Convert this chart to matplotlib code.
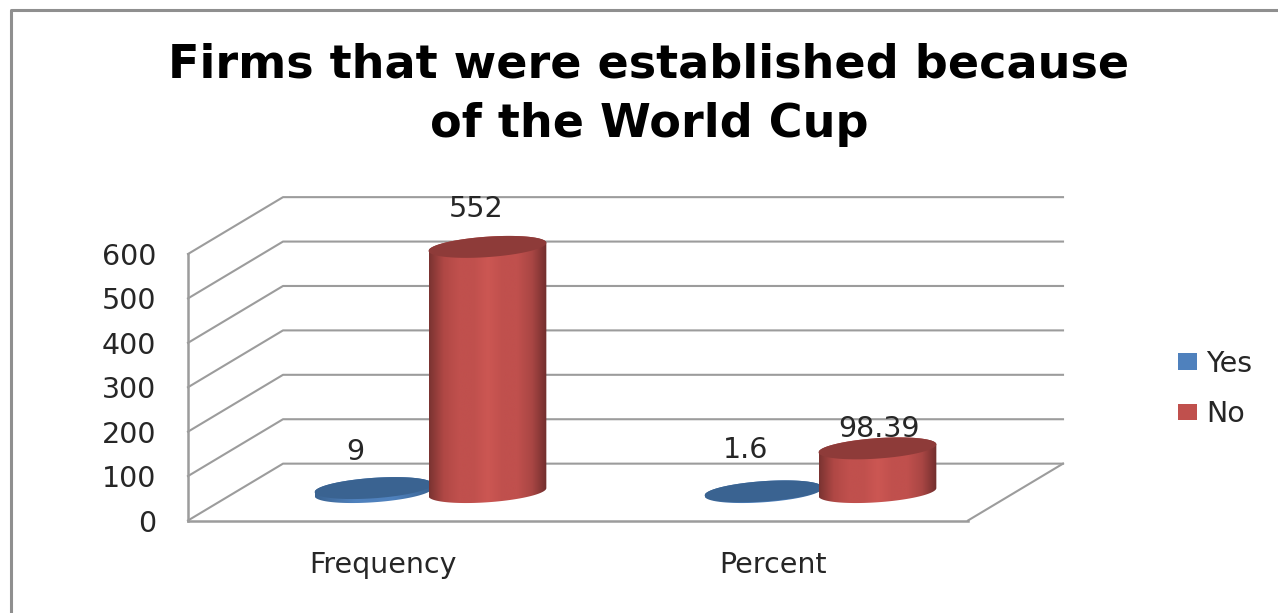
import numpy as np
import matplotlib
matplotlib.use("Agg")
import matplotlib.pyplot as plt
from matplotlib.colors import LinearSegmentedColormap
from matplotlib.lines import Line2D
from matplotlib.patches import Patch, Polygon

categories = ["Frequency", "Percent"]
series_names = ["Yes", "No"]
yes_values = [9, 1.6]
no_values = [552, 98.39]
yes_labels = ["9", "1.6"]
no_labels = ["552", "98.39"]
y_ticks = [0, 100, 200, 300, 400, 500, 600]

W, H = 1278, 613
GRID = "#9c9c9c"
TEXT = "#262626"

# depth of the fake 3d box, in data units
DEPTH_X = 0.2436
DEPTH_Y = 128
BAR_OFFSET = 0.146
RADIUS = 0.151
ELL_B = 23
ELL_SHEAR = 9

red_cmap = LinearSegmentedColormap.from_list("red", ["#7a3331", "#b04845", "#c0504d", "#c0504d", "#cc5753", "#c0504d", "#c0504d", "#a94644", "#712e2d"])
blue_cmap = LinearSegmentedColormap.from_list("blue", ["#3a6391", "#4f81bd", "#4f81bd", "#3a6391"])


def ellipse(cx, cy, t):
    return cx + RADIUS * np.cos(t), cy + ELL_B * np.sin(t) + ELL_SHEAR * np.cos(t)


def cylinder(ax, x, value, cmap, top_color, zorder):
    cx = x + DEPTH_X / 2
    base = DEPTH_Y / 2
    top = base + value
    xb, yb = ellipse(cx, base, np.linspace(np.pi, 2 * np.pi, 80))
    xt, yt = ellipse(cx, top, np.linspace(0, np.pi, 80))
    body = Polygon(np.column_stack([np.r_[xb, xt], np.r_[yb, yt]]), transform=ax.transData)
    grad = np.linspace(0, 1, 256).reshape(1, -1)
    im = ax.imshow(grad, cmap=cmap, aspect="auto", interpolation="bilinear", zorder=zorder,
                   extent=(cx - RADIUS, cx + RADIUS, base - 40, top + 40))
    im.set_clip_box(ax.figure.bbox)
    im.set_clip_path(body)
    xe, ye = ellipse(cx, top, np.linspace(0, 2 * np.pi, 160))
    ax.fill(xe, ye, color=top_color, lw=0, zorder=zorder + 0.1, clip_on=False)


fig = plt.figure(figsize=(W / 100, H / 100), dpi=100)
ax = fig.add_axes([188 / W, 1 - 520.5 / H, 780 / W, 266.5 / H])
ax.patch.set_alpha(0)

x = np.arange(len(categories))

# walls and floor
for v in y_ticks:
    ax.plot([-0.5, -0.5 + DEPTH_X, 1.5 + DEPTH_X], [v, v + DEPTH_Y, v + DEPTH_Y],
            color=GRID, lw=1.5, zorder=1, clip_on=False)
ax.plot([1.5, 1.5 + DEPTH_X], [0, DEPTH_Y], color=GRID, lw=1.5, zorder=1, clip_on=False)

for i in x:
    cylinder(ax, i - BAR_OFFSET, yes_values[i], blue_cmap, "#3a6391", 3)
    cylinder(ax, i + BAR_OFFSET, no_values[i], red_cmap, "#8e3b39", 4)

ax.set_xlim(-0.5, 1.5)
ax.set_ylim(0, 600)

# value labels, moved by hand like in the original chart
yes_shift = [(-18, 36), (-18, 41)]
no_shift = [(-11, 38), (2, 19)]
for i in x:
    ax.annotate(yes_labels[i], (i - BAR_OFFSET + DEPTH_X / 2, DEPTH_Y / 2 + yes_values[i]),
                xytext=yes_shift[i], textcoords="offset pixels", ha="center", va="center",
                fontsize=20.5, color=TEXT, zorder=2, annotation_clip=False)
    ax.annotate(no_labels[i], (i + BAR_OFFSET + DEPTH_X / 2, DEPTH_Y / 2 + no_values[i]),
                xytext=no_shift[i], textcoords="offset pixels", ha="center", va="center",
                fontsize=20.5, color=TEXT, zorder=2, annotation_clip=False)

ax.set_xticks(x, categories)
ax.set_yticks(y_ticks)
ax.tick_params(axis="x", length=0, pad=22, labelsize=20.5, labelcolor=TEXT)
ax.tick_params(axis="y", length=0, pad=23, labelsize=20.5, labelcolor=TEXT)
for side in ["top", "right"]:
    ax.spines[side].set_visible(False)
for side in ["left", "bottom"]:
    ax.spines[side].set_color(GRID)
    ax.spines[side].set_linewidth(1.8)

handles = [Patch(facecolor="#4f81bd", label=series_names[0]), Patch(facecolor="#c0504d", label=series_names[1])]
fig.legend(handles=handles, loc="center left", bbox_to_anchor=(1172 / W, 1 - 389 / H), frameon=False,
           fontsize=20.5, labelcolor=TEXT, handlelength=0.67, handleheight=0.5, handletextpad=0.33,
           labelspacing=0.8, borderpad=0.2, borderaxespad=0)

fig.text(649 / W, 1 - 95 / H, "Firms that were established because\nof the World Cup", ha="center", va="center",
         family="DejaVu Sans", fontweight="bold", fontsize=33.2, color="black", linespacing=1.42)

# chart area frame, only left and top are inside the crop
fig.add_artist(Line2D([11 / W, 11 / W, 1], [0, 1 - 10 / H, 1 - 10 / H], color="#8f8f8f", lw=2.2))

fig.savefig("out.png", dpi=100)
